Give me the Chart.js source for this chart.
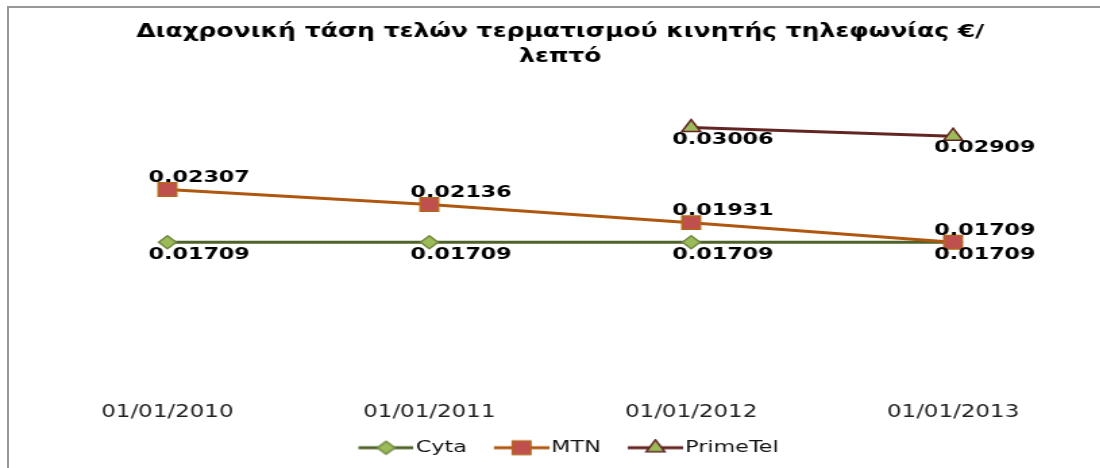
<!DOCTYPE html>
<html>
<head>
<meta charset="utf-8">
<script src="https://cdn.jsdelivr.net/npm/chart.js@4.4.0/dist/chart.umd.min.js"></script>
<style>
  html, body { margin: 0; padding: 0; background: #fff; overflow: hidden; }
  #wrap { position: relative; width: 1100px; height: 468px; overflow: hidden; }
  #tasi { position: absolute; left: 0; top: 0; width: 837px; height: 468px; transform: scaleX(1.35); transform-origin: 0 0; }
  #frame { position: absolute; left: 7px; top: 6px; width: 1200px; height: 600px;
           border-left: 2px solid #979797; border-top: 2px solid #979797; pointer-events: none; }
</style>
</head>
<body>
<div id="wrap">
  <canvas id="tasi" width="837" height="468"></canvas>
  <div id="frame"></div>
</div>
<script>
// dati
const dates = ['01/01/2010', '01/01/2011', '01/01/2012', '01/01/2013'];
const cyta = [0.01709, 0.01709, 0.01709, 0.01709];
const mtn = [0.02307, 0.02136, 0.01931, 0.01709];
const primetel = [null, null, 0.03006, 0.02909];
const seriesNames = ['Cyta', 'MTN', 'PrimeTel'];
const labelPos = ['below', 'above', 'below'];
const titolo = ['Διαχρονική τάση τελών τερματισμού κινητής τηλεφωνίας €/', 'λεπτό'];

const stili = [
    { line: '#4F6228', fill: '#9BBB59', border: '#71893F', point: 'rectRot', r: 6.5 },
    { line: '#B0570F', fill: '#C0504D', border: '#B3661F', point: 'rect', r: 9.5 },
    { line: '#632523', fill: '#9BBB59', border: '#632523', point: 'triangle', r: 8 }
];

// icona legenda: linea + marker
function iconaLegenda(s) {
    const c = document.createElement('canvas');
    c.width = 60; c.height = 18;
    const g = c.getContext('2d');
    g.strokeStyle = s.line;
    g.lineWidth = 3;
    g.beginPath();
    g.moveTo(19, 9); g.lineTo(60, 9);
    g.stroke();
    g.fillStyle = s.fill;
    g.strokeStyle = s.border;
    g.lineWidth = 1.5;
    Chart.helpers.drawPoint(g, { pointStyle: s.point, radius: s.r, rotation: 0, borderWidth: 1.5 }, 39.5, 9);
    return c;
}
const icone = stili.map(iconaLegenda);

const etichette = {
    id: 'etichette',
    afterDatasetsDraw(chart) {
        const ctx = chart.ctx;
        ctx.save();
        ctx.font = 'bold 16.5px "DejaVu Sans"';
        ctx.fillStyle = '#000';
        ctx.textAlign = 'center';
        ctx.textBaseline = 'middle';
        chart.data.datasets.forEach((ds, i) => {
            const meta = chart.getDatasetMeta(i);
            meta.data.forEach((pt, j) => {
                const v = ds.data[j];
                if (v === null || v === undefined) return;
                const dy = labelPos[i] === 'above' ? -12 : 12;
                ctx.fillText(v.toFixed(5), pt.x + 23.5, pt.y + dy);
            });
        });
        ctx.restore();
    }
};

const datiSerie = [cyta, mtn, primetel];

new Chart(document.getElementById('tasi'), {
    type: 'line',
    data: {
        labels: dates,
        datasets: datiSerie.map((d, i) => ({
            label: seriesNames[i],
            data: d,
            order: datiSerie.length - i,
            borderColor: stili[i].line,
            borderWidth: 3,
            backgroundColor: stili[i].fill,
            pointBackgroundColor: stili[i].fill,
            pointBorderColor: stili[i].border,
            pointBorderWidth: 1.5,
            pointStyle: stili[i].point,
            pointRadius: stili[i].r,
            pointHoverRadius: stili[i].r,
            tension: 0,
            fill: false
        }))
    },
    options: {
        responsive: false,
        animation: false,
        devicePixelRatio: 1,
        layout: { padding: { left: 27, right: 34, top: 0, bottom: 2 } },
        plugins: {
            title: {
                display: true,
                text: titolo,
                color: '#000',
                font: { family: 'DejaVu Sans', size: 18.5, weight: 'bold', lineHeight: 1.35 },
                padding: { top: 20, bottom: 14 }
            },
            legend: {
                position: 'bottom',
                labels: {
                    usePointStyle: true,
                    pointStyleWidth: 46.5,
                    padding: 7.75,
                    color: '#111',
                    font: { family: 'DejaVu Sans', size: 16.5 },
                    sort: (a, b) => a.datasetIndex - b.datasetIndex,
                    generateLabels: chart => Chart.defaults.plugins.legend.labels.generateLabels(chart)
                        .map(item => ({ ...item, pointStyle: icone[item.datasetIndex] }))
                }
            },
            tooltip: { enabled: false }
        },
        scales: {
            x: {
                offset: true,
                grid: { display: false, drawTicks: false },
                border: { display: false },
                ticks: {
                    padding: 9,
                    color: '#222',
                    font: { family: 'DejaVu Sans', size: 17 }
                }
            },
            y: {
                display: false,
                min: 0,
                max: 0.035
            }
        }
    },
    plugins: [etichette]
});
</script>
</body>
</html>
